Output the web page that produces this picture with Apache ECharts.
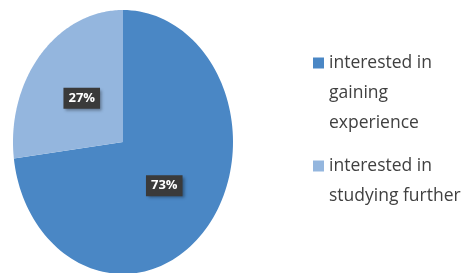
<!DOCTYPE html>
<html>
<head>
<meta charset="utf-8">
<script src="https://cdn.jsdelivr.net/npm/echarts@6/dist/echarts.min.js"></script>
<style>
  html, body { margin: 0; padding: 0; background: #fff; }
  #chart { width: 471px; height: 273px; }
</style>
</head>
<body>
<div id="chart"></div>
<script>
// data
const categories = ['interested in gaining experience', 'interested in studying further'];
const values = [73, 27];
const legendLines = [['interested in', 'gaining', 'experience'], ['interested in', 'studying further']];
const colors = ['#4a87c5', '#94b6de'];

const total = values.reduce((a, b) => a + b, 0);
const LINE = 30;

// slice drawn on a stretched (elliptical) pie, starting at 12 o'clock, clockwise
function sliceRenderer(i) {
  return function (params, api) {
    const cx = 123, cy = 142, rx = 110, ry = 132;
    const before = values.slice(0, i).reduce((a, b) => a + b, 0);
    const a0 = before / total * Math.PI * 2;
    const a1 = (before + values[i]) / total * Math.PI * 2;
    const pts = [[cx, cy]];
    const steps = 120;
    for (let k = 0; k <= steps; k++) {
      const a = a0 + (a1 - a0) * k / steps;
      pts.push([cx + rx * Math.sin(a), cy - ry * Math.cos(a)]);
    }
    const mid = (a0 + a1) / 2;
    return {
      type: 'group',
      children: [{
        type: 'polygon',
        shape: { points: pts },
        style: { fill: api.visual('color') }
      }, {
        type: 'text',
        x: cx + 0.5 * rx * Math.sin(mid),
        y: cy - 0.5 * ry * Math.cos(mid),
        z2: 10,
        style: {
          text: Math.round(values[i] / total * 100) + '%',
          fill: '#fff',
          font: 'bold 13px "Open Sans", sans-serif',
          align: 'center',
          verticalAlign: 'middle',
          backgroundColor: '#3a3a3a',
          padding: [4, 5, 4, 5],
          shadowBlur: 3,
          shadowOffsetX: 2,
          shadowOffsetY: 2,
          shadowColor: 'rgba(0,0,0,0.35)'
        }
      }]
    };
  };
}

// legend text is middle-aligned on the icon: a spacer line on top keeps the first line level with it
function legendFormatter(name) {
  const lines = legendLines[categories.indexOf(name)];
  const spacer = '{s' + (lines.length - 1) + '| }';
  return spacer + '\n' + lines.map(l => '{t|' + l + '}').join('\n');
}

const chart = echarts.init(document.getElementById('chart'));
chart.setOption({
  backgroundColor: '#fff',
  animation: false,
  color: colors,
  legend: {
    orient: 'vertical',
    left: 313,
    top: -12,
    padding: 0,
    itemWidth: 11,
    itemHeight: 11,
    itemGap: -11,
    icon: 'rect',
    selectedMode: false,
    formatter: legendFormatter,
    textStyle: {
      color: '#404040',
      rich: {
        t: { fontSize: 17.5, lineHeight: LINE, color: '#404040', fontFamily: '"Open Sans", sans-serif' },
        s1: { fontSize: 10, lineHeight: LINE, height: LINE },
        s2: { fontSize: 10, lineHeight: LINE * 2, height: LINE * 2 }
      }
    },
    data: categories
  },
  series: categories.map((name, i) => ({
    type: 'custom',
    name: name,
    coordinateSystem: 'none',
    data: [values[i]],
    itemStyle: { color: colors[i] },
    renderItem: sliceRenderer(i)
  }))
});
</script>
</body>
</html>
